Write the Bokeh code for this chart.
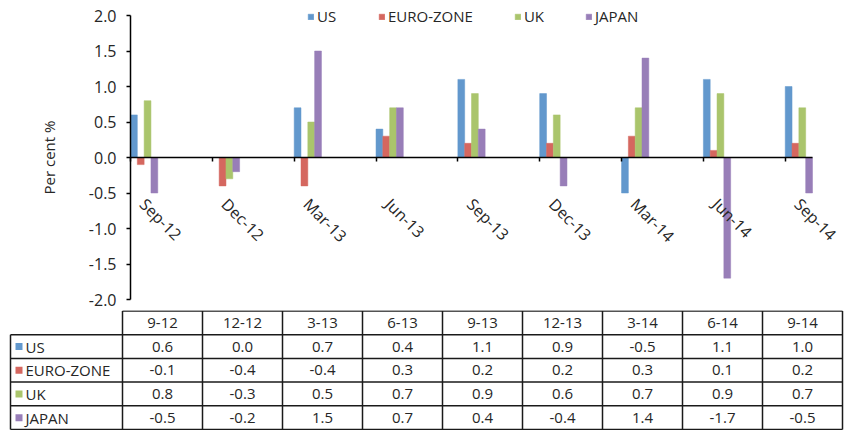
import math
from bokeh.plotting import figure
from bokeh.models import (Range1d, FixedTicker, NumeralTickFormatter, LinearAxis,
                          Legend, LegendItem, ColumnDataSource)
from bokeh.layouts import column
from bokeh.embed import file_html
from bokeh.resources import INLINE
from bokeh.core.properties import value

# ---------------- data ----------------
categories = ["Sep-12", "Dec-12", "Mar-13", "Jun-13", "Sep-13", "Dec-13", "Mar-14", "Jun-14", "Sep-14"]
table_headers = ["9-12", "12-12", "3-13", "6-13", "9-13", "12-13", "3-14", "6-14", "9-14"]
series_names = ["US", "EURO-ZONE", "UK", "JAPAN"]
us = [0.6, 0.0, 0.7, 0.4, 1.1, 0.9, -0.5, 1.1, 1.0]
euro_zone = [-0.1, -0.4, -0.4, 0.3, 0.2, 0.2, 0.3, 0.1, 0.2]
uk = [0.8, -0.3, 0.5, 0.7, 0.9, 0.6, 0.7, 0.9, 0.7]
japan = [-0.5, -0.2, 1.5, 0.7, 0.4, -0.4, 1.4, -1.7, -0.5]
y_ticks = [-2.0, -1.5, -1.0, -0.5, 0.0, 0.5, 1.0, 1.5, 2.0]
y_label = "Per cent %"

series_values = [us, euro_zone, uk, japan]
colors = ["#6298CD", "#D5675F", "#AAC56C", "#987EB8"]

FONT = "Open Sans"
TEXT = "#262626"
n = len(categories)
bar_w = 1.0 / 12
x_end = n - 1 + 4 * bar_w

W = 844
H1 = 310          # chart figure height
H2 = 120          # table figure height

# ---------------- chart ----------------
# frame spans the whole figure; x: 1 category = 81.84 px with x=0 at px 130
# y: 71 px per unit with 2.0 at px 15
ppu_x, x0_px = 81.84, 130
ppu_y, ytop_px = 71.0, 15
p = figure(width=W, height=H1,
           x_range=Range1d(-x0_px / ppu_x, (W - x0_px) / ppu_x),
           y_range=Range1d(2 - (H1 - ytop_px) / ppu_y, 2 + ytop_px / ppu_y),
           output_backend="svg", toolbar_location=None,
           x_axis_location=None, y_axis_location=None, min_border=0)
p.outline_line_color = None
p.grid.visible = False
p.background_fill_color = "white"

renderers = []
for s, (vals, col) in enumerate(zip(series_values, colors)):
    src = ColumnDataSource(dict(x=[i + (s + 0.5) * bar_w for i in range(n)], top=vals))
    r = p.vbar(x="x", top="top", bottom=0, width=bar_w, source=src,
               fill_color=col, line_color=col, line_width=0.5)
    renderers.append(r)

xax = LinearAxis(fixed_location=0, bounds=(0, x_end),
                 ticker=FixedTicker(ticks=list(range(n))),
                 major_label_overrides={i: "" for i in range(n)},
                 major_tick_in=0, major_tick_out=4,
                 minor_tick_line_color=None,
                 axis_line_color="black", axis_line_width=1.5,
                 major_tick_line_color="black", major_tick_line_width=1.5)
p.add_layout(xax, "below")

yax = LinearAxis(fixed_location=0, bounds=(-2, 2),
                 ticker=FixedTicker(ticks=y_ticks),
                 formatter=NumeralTickFormatter(format="0.0"),
                 axis_label=y_label,
                 axis_label_text_font=FONT, axis_label_text_font_size="15px",
                 axis_label_text_font_style="normal", axis_label_text_color=TEXT,
                 axis_label_standoff=27,
                 major_label_text_font=FONT, major_label_text_font_size="16px",
                 major_label_text_color=TEXT, major_label_standoff=10,
                 major_tick_in=0, major_tick_out=4,
                 minor_tick_line_color=None,
                 axis_line_color="black", axis_line_width=1.5,
                 major_tick_line_color="black", major_tick_line_width=1.5)
p.add_layout(yax, "left")

p.text(x=list(range(n)), y=[0] * n, text=categories, angle=-math.pi / 4,
       x_offset=20, y_offset=36, text_align="left", text_baseline="top",
       text_font=value(FONT), text_font_size="16px", text_color=TEXT)

legend = Legend(items=[LegendItem(label=nm, renderers=[r]) for nm, r in zip(series_names, renderers)],
                orientation="horizontal", location=(307, H1 - 26),
                glyph_width=7, glyph_height=7, label_standoff=3, spacing=41,
                padding=0, margin=0, border_line_color=None, background_fill_alpha=0,
                label_text_font=FONT, label_text_font_size="15px", label_text_color=TEXT,
                label_height=16)
p.add_layout(legend, "center")

# ---------------- data table ----------------
col_px, col_x0 = 80.0, 122     # column width, left edge of first value column
row_y0 = 0.5                   # top of header row (within table figure)
row_px = (H2 - 1 - row_y0) / 5 # row height
t = figure(width=W, height=H2,
           x_range=Range1d(-col_x0 / col_px, (W - col_x0) / col_px),
           y_range=Range1d((H2 - row_y0) / row_px, -row_y0 / row_px),
           output_backend="svg", toolbar_location=None, x_axis_location=None, y_axis_location=None,
           min_border=0)
t.outline_line_color = None
t.grid.visible = False

label_left = -112 / col_px
nrows = len(series_names)
hx0, hx1, hy = [0], [n], [0]
for r_i in range(1, nrows + 2):
    hx0.append(label_left); hx1.append(n); hy.append(r_i)
t.segment(x0=hx0, y0=hy, x1=hx1, y1=hy, line_color="#1a1a1a", line_width=1.5)
vx = [label_left] + list(range(n + 1))
vy0 = [1] + [0] * (n + 1)
vy1 = [nrows + 1] * (n + 2)
t.segment(x0=vx, y0=vy0, x1=vx, y1=vy1, line_color="#1a1a1a", line_width=1.5)

t.text(x=[j + 0.5 for j in range(n)], y=[0.5] * n, text=table_headers,
       text_align="center", text_baseline="middle",
       text_font=value(FONT), text_font_size="15px", text_color=TEXT)

cx, cy, ct = [], [], []
for r_i, vals in enumerate(series_values):
    for j, v in enumerate(vals):
        cx.append(j + 0.5); cy.append(r_i + 1.5); ct.append(f"{v:.1f}")
t.text(x=cx, y=cy, text=ct, text_align="center", text_baseline="middle",
       text_font=value(FONT), text_font_size="15px", text_color=TEXT)

t.text(x=[label_left] * nrows, y=[r_i + 1.5 for r_i in range(nrows)], text=series_names,
       x_offset=15, text_align="left", text_baseline="middle",
       text_font=value(FONT), text_font_size="15px", text_color=TEXT)
t.scatter(x=[label_left + 8.5 / col_px] * nrows, y=[r_i + 1.5 for r_i in range(nrows)],
          marker="square", size=7, fill_color=colors, line_color=None)

layout = column(p, t, spacing=0)
open("out.html", "w").write(file_html(layout, INLINE))
